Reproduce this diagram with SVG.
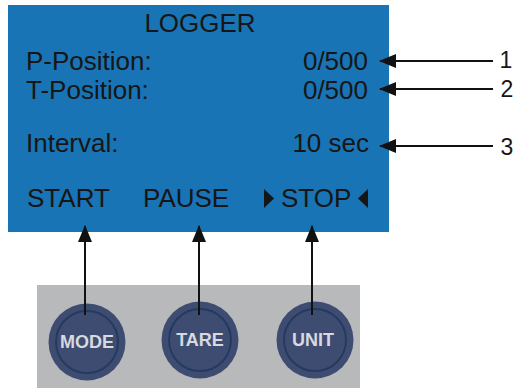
<svg xmlns="http://www.w3.org/2000/svg" width="515" height="389" viewBox="0 0 515 389">
<style>
.lcd{font-family:"Liberation Sans",Arial,sans-serif;font-size:26px;fill:#161616}
.num{font-family:"Liberation Sans",Arial,sans-serif;font-size:23px;fill:#161616}
.btn{fill:#3e4c72}
.ring{fill:none;stroke:#233b60;stroke-width:2}
.btxt{font-family:"Liberation Sans",Arial,sans-serif;font-size:18px;font-weight:bold;fill:#d6d9df;text-anchor:middle}
.conn{stroke:#111;stroke-width:2;fill:none}
</style>
<defs>
<marker id="ah" markerWidth="17" markerHeight="14" refX="16" refY="7" orient="auto" markerUnits="userSpaceOnUse">
<path d="M0,0 L17,7 L0,14 Z" fill="#111"/>
</marker>
</defs>
<rect x="0" y="0" width="515" height="389" fill="#ffffff"/>
<g id="display">
<rect x="8" y="5" width="381" height="227" fill="#1874b4"/>
<text class="lcd" x="200" y="32" text-anchor="middle">LOGGER</text>
<text class="lcd" x="26" y="70">P-Position:</text>
<text class="lcd" x="368" y="70" text-anchor="end">0/500</text>
<text class="lcd" x="26" y="99">T-Position:</text>
<text class="lcd" x="368" y="99" text-anchor="end">0/500</text>
<text class="lcd" x="26" y="152">Interval:</text>
<text class="lcd" x="369" y="152" text-anchor="end">10 sec</text>
<text class="lcd" x="27" y="207">START</text>
<text class="lcd" x="143" y="207">PAUSE</text>
<polygon points="264,189 274,198.5 264,208" fill="#161616"/>
<text class="lcd" x="281" y="207">STOP</text>
<polygon points="368,189 358,198.5 368,208" fill="#161616"/>
</g>
<g id="panel">
<rect x="37" y="285" width="323" height="103" fill="#b8b9bb"/>
</g>
<g id="mode">
<circle class="btn" cx="87" cy="342" r="38.5"/>
<circle class="ring" cx="87" cy="342" r="31"/>
<text class="btxt" x="87" y="348">MODE</text>
</g>
<g id="tare">
<circle class="btn" cx="200" cy="340" r="38.5"/>
<circle class="ring" cx="200" cy="340" r="31"/>
<text class="btxt" x="200" y="346">TARE</text>
</g>
<g id="unit">
<circle class="btn" cx="315" cy="340" r="38.5"/>
<circle class="ring" cx="315" cy="340" r="31"/>
<text class="btxt" x="313" y="346">UNIT</text>
</g>
<g id="labels">
<text class="num" x="506" y="68" text-anchor="middle">1</text>
<text class="num" x="507" y="97" text-anchor="middle">2</text>
<text class="num" x="507" y="155" text-anchor="middle">3</text>
</g>
<g id="connectors">
<line class="conn" x1="493" y1="61" x2="380" y2="61" marker-end="url(#ah)"/>
<line class="conn" x1="493" y1="89" x2="380" y2="89" marker-end="url(#ah)"/>
<line class="conn" x1="493" y1="146" x2="380" y2="146" marker-end="url(#ah)"/>
<line class="conn" x1="85" y1="315" x2="85" y2="226" marker-end="url(#ah)"/>
<line class="conn" x1="199" y1="315" x2="199" y2="226" marker-end="url(#ah)"/>
<line class="conn" x1="312" y1="315" x2="312" y2="226" marker-end="url(#ah)"/>
</g>
</svg>
